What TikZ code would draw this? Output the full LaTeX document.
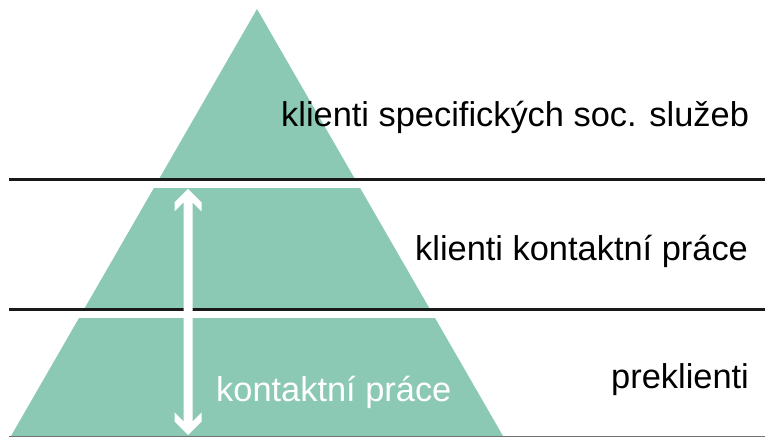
\documentclass[tikz,border=0pt]{standalone}
\usepackage{fontspec}
\setmainfont{Liberation Sans}
\usetikzlibrary{calc}
\definecolor{pyrgreen}{RGB}{139,201,180}
\begin{document}
\begin{tikzpicture}[x=1pt,y=1pt,
  lbl/.style={anchor=base west,inner sep=0pt,font=\fontsize{34.4}{40}\selectfont},
  sepline/.style={draw=black!90,line width=3pt},
  gap/.style={fill=white}]
\useasboundingbox (0,0) rectangle (765,438);
% pyramid
\coordinate (apex) at (257,429);
\coordinate (bl) at (11,2);
\coordinate (br) at (503,2);
\fill[pyrgreen] (apex) -- (bl) -- (br) -- cycle;
% white gaps between levels
\fill[gap] (0,250) rectangle (765,258);
\fill[gap] (0,120) rectangle (765,130);
% separator lines
\coordinate (l1a) at (9,258);
\coordinate (l1b) at (765,258);
\coordinate (l2a) at (9,128.5);
\coordinate (l2b) at (765,128.5);
\coordinate (l3a) at (9,1.5);
\coordinate (l3b) at (765,1.5);
\draw[sepline] (l1a) -- (l1b);
\draw[sepline] (l2a) -- (l2b);
\draw[draw=black!55,line width=1.3pt] (l3a) -- (l3b);
% double arrow
\coordinate (atop) at (188,249);
\coordinate (abot) at (188,3);
\fill[white] (atop) -- ++(-13.5,-13.5) -- ++(0,-9) -- ++(9,9)
  -- ($(abot)+(-4.5,13.5)$) -- ++(-9,9) -- ++(0,-9) -- (abot)
  -- ++(13.5,13.5) -- ++(0,9) -- ++(-9,-9)
  -- ($(atop)+(4.5,-13.5)$) -- ++(9,-9) -- ++(0,9) -- cycle;
% labels
\node[lbl] (t1) at (281,311) {klienti specifických soc. služeb};
\node[lbl] (t2) at (415,177) {klienti kontaktní práce};
\node[lbl] (t3) at (611,49) {preklienti};
\node[lbl,text=white] (t4) at (216,36) {kontaktní práce};
\end{tikzpicture}
\end{document}
